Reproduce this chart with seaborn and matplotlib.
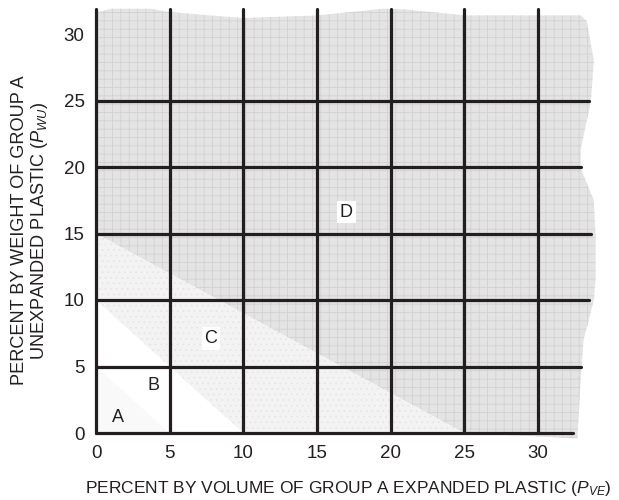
import matplotlib
matplotlib.use("Agg")
import matplotlib.pyplot as plt
import numpy as np
import pandas as pd
import seaborn as sns

# grid positions and axis ticks
GRID_X = [0, 5, 10, 15, 20, 25, 30]
GRID_Y = [0, 5, 10, 15, 20, 25]
TICKS = [0, 5, 10, 15, 20, 25, 30]
# where each horizontal grid line stops at the ragged right edge
H_LINE_END = [32.4, 32.9, 33.5, 33.6, 32.9, 33.5]
V_LINE_TOP = 31.9

# region boundaries (x-intercept, y-intercept)
A_LIMIT = (5, 5)
B_LIMIT = (10, 10)
C_LIMIT = (25, 15)

# ragged outline of zone D
TOP_EDGE_X = [0, 1, 3.7, 5, 10, 15, 19.5, 21, 25, 30, 32.9, 33.3]
TOP_EDGE_Y = [31.6, 31.9, 31.9, 31.65, 31.2, 31.4, 31.9, 31.85, 31.4, 31.4, 31.4, 31.0]
RIGHT_EDGE_Y = [28, 25, 21.3, 19.9, 17.5, 14.9, 11.5, 10, 7, 4, 0, -0.4]
RIGHT_EDGE_X = [33.8, 33.6, 32.9, 32.9, 33.8, 33.9, 33.9, 33.8, 33.1, 32.9, 32.7, 32.7]

REGION_LABELS = ["A", "B", "C", "D"]
LABEL_X = [1.5, 3.9, 7.8, 17.0]
LABEL_Y = [1.2, 3.6, 7.1, 16.6]

sns.set_theme(style="white")
plt.rcParams["font.family"] = ["Liberation Sans", "DejaVu Sans"]
plt.rcParams["mathtext.fontset"] = "custom"
plt.rcParams["mathtext.it"] = "Liberation Sans:italic"
plt.rcParams["mathtext.rm"] = "Liberation Sans"
plt.rcParams["hatch.linewidth"] = 0.6

fig = plt.figure(figsize=(6.19, 5.0), dpi=100)
# x=0 sits at ~96 px, 14.73 px per unit; y=0 at ~433 px, 13.3 px per unit
ax = fig.add_axes([0.1480, 0.1207, 0.8281, 0.8778])

# zone D (textured grey)
d_x = [0, C_LIMIT[0], RIGHT_EDGE_X[-1]] + RIGHT_EDGE_X[::-1] + TOP_EDGE_X[::-1]
d_y = [C_LIMIT[1], 0, -0.4] + RIGHT_EDGE_Y[::-1] + TOP_EDGE_Y[::-1]
ax.fill(d_x, d_y, facecolor="#e4e4e4", edgecolor="none", zorder=1)
ax.fill(d_x, d_y, facecolor="none", edgecolor="#d2d2d2", hatch="++", linewidth=0, zorder=1)

# zone C (light stipple)
c_x = [0, B_LIMIT[0], C_LIMIT[0], 0]
c_y = [B_LIMIT[1], 0, 0, C_LIMIT[1]]
ax.fill(c_x, c_y, facecolor="#f3f3f3", edgecolor="none", zorder=1)
ax.fill(c_x, c_y, facecolor="none", edgecolor="#e6e6e6", hatch="...", linewidth=0, zorder=1)

# zone A (very faint)
ax.fill([0, A_LIMIT[0], 0], [0, 0, A_LIMIT[1]], facecolor="#f9f9f9", edgecolor="none", zorder=1)

# heavy grid
grid_rows = []
for gx in GRID_X:
    grid_rows.append({"x": gx, "y": 0, "line": f"v{gx}"})
    grid_rows.append({"x": gx, "y": V_LINE_TOP, "line": f"v{gx}"})
for gy, end in zip(GRID_Y, H_LINE_END):
    grid_rows.append({"x": 0, "y": gy, "line": f"h{gy}"})
    grid_rows.append({"x": end, "y": gy, "line": f"h{gy}"})
grid_df = pd.DataFrame(grid_rows)
sns.lineplot(data=grid_df, x="x", y="y", units="line", estimator=None, sort=False,
             color="#231f20", linewidth=2.3, ax=ax, zorder=3)

for lab, lx, ly in zip(REGION_LABELS, LABEL_X, LABEL_Y):
    box = dict(facecolor="white", edgecolor="none", pad=2) if lab in ("C", "D") else None
    ax.text(lx, ly, lab, fontsize=13, ha="center", va="center", color="#231f20",
            bbox=box, zorder=4)

ax.set_xlim(-0.3, 34.5)
ax.set_ylim(-0.5, 32.5)
ax.set_xticks(TICKS)
ax.set_yticks(TICKS)
ax.tick_params(axis="both", length=0, labelsize=13.5, colors="#231f20")
ax.tick_params(axis="x", pad=4)
ax.tick_params(axis="y", pad=5)
for s in ax.spines.values():
    s.set_visible(False)
ax.grid(False)

ax.set_xlabel("PERCENT BY VOLUME OF GROUP A EXPANDED PLASTIC ($\\mathit{P}_{\\mathit{VE}}$)",
              fontsize=12.5, color="#231f20", labelpad=12)
ax.set_ylabel("PERCENT BY WEIGHT OF GROUP A\nUNEXPANDED PLASTIC ($\\mathit{P}_{\\mathit{WU}}$)",
              fontsize=13.1, color="#231f20", labelpad=9.5, linespacing=1.1, y=0.4765)

fig.savefig("out.png", dpi=100)
